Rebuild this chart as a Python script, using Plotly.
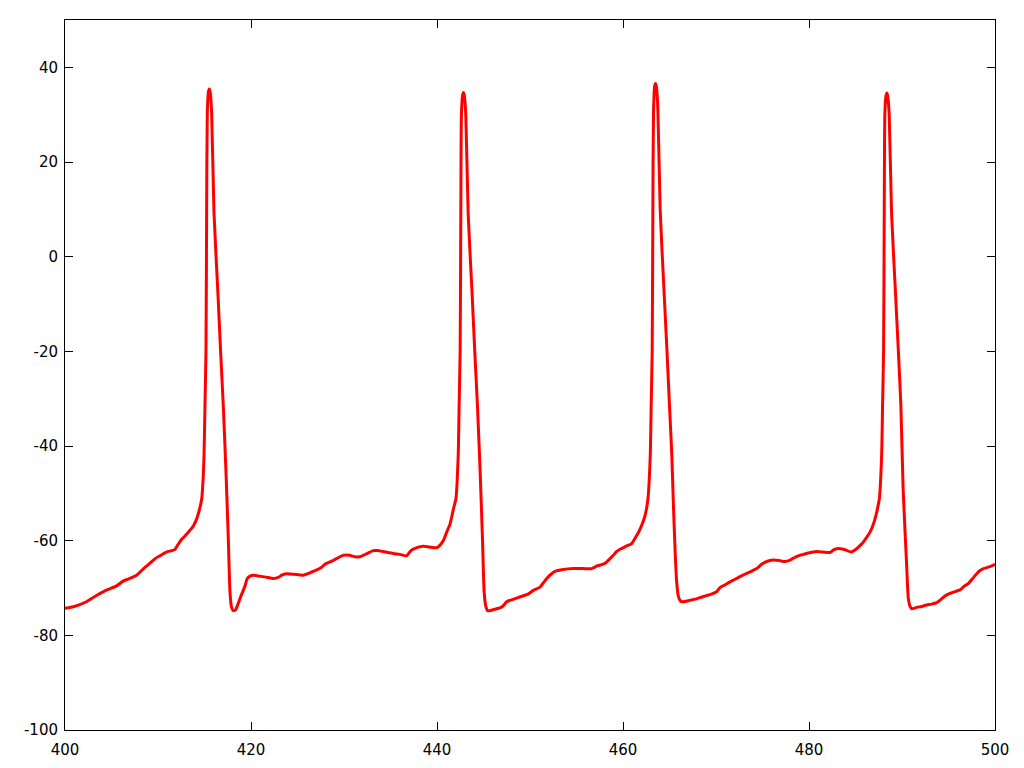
'''
    Membrane potential trace (gnuplot-like look) rebuilt with plotly.
'''

import plotly.graph_objects as go

# time (ms) and membrane potential (mV)
time_ms = [
    400.0, 401.0, 402.3, 403.2, 404.1, 404.8, 405.6, 406.2, 406.8, 407.7,
    408.4, 409.0, 409.7, 410.3, 410.9, 411.8, 412.1, 412.5, 413.0, 413.44,
    413.8, 414.16, 414.45, 414.7, 414.85, 414.95, 415.05, 415.16, 415.23, 415.3,
    415.42, 415.52, 415.62, 415.77, 416.02, 416.45, 416.72, 417.02, 417.31, 417.56,
    417.74, 417.9, 418.1, 418.35, 418.6, 418.9, 419.15, 419.35, 419.6, 419.9,
    420.25, 420.95, 421.6, 422.4, 423.0, 423.3, 423.8, 424.6, 425.6, 426.2,
    426.7, 427.6, 428.0, 428.5, 429.2, 429.9, 430.6, 431.2, 431.7, 432.4,
    433.15, 433.6, 434.2, 435.3, 436.0, 436.74, 437.1, 437.45, 438.5, 439.4,
    439.97, 440.3, 440.7, 441.04, 441.4, 441.58, 441.8,
    442.03, 442.28, 442.38, 442.49, 442.56, 442.63, 442.75, 442.85, 442.95, 443.1,
    443.35, 443.78, 444.05, 444.35, 444.64, 444.89, 445.07, 445.25, 445.43, 445.63,
    446.2, 446.77, 447.1, 447.5, 447.85, 448.9, 449.8, 450.36, 451.08, 451.4,
    451.8, 452.2, 452.69, 453.58, 454.66, 455.7, 456.63, 457.17, 458.06, 458.5,
    458.96, 459.3, 459.68, 460.3, 460.93, 461.2, 461.47, 461.75, 462.0, 462.37,
    462.68, 462.93, 463.03, 463.14, 463.21, 463.28, 463.4, 463.5, 463.6, 463.75,
    464.0, 464.43, 464.72, 465.0, 465.25, 465.4, 465.6, 465.77, 465.95, 466.2,
    466.4, 467.0, 467.9, 468.5, 469.0, 469.5, 470.07, 470.43, 471.0, 471.5,
    472.0, 472.58, 473.1, 473.66, 474.37, 474.9, 475.45, 476.16, 476.8, 477.42,
    477.96, 478.4, 478.85, 479.4, 479.93, 480.82, 481.5, 482.26, 482.6, 482.97,
    483.69, 484.1, 484.52, 485.13, 485.5, 485.84, 486.2, 486.56, 486.85, 487.1,
    487.3,
    487.56, 487.81, 487.91, 488.02, 488.09, 488.16, 488.28, 488.38, 488.48, 488.63,
    488.88, 489.31, 489.6, 489.88, 490.12, 490.5, 490.68, 490.85, 491.04, 491.3,
    491.58, 492.1, 492.65, 493.2, 493.73, 494.2, 494.62, 495.1, 495.5, 496.24,
    496.7, 497.1, 497.6, 498.03, 498.4, 498.75, 499.46, 500.0,
]

voltage_mv = [
    -74.3, -73.9, -72.9, -71.8, -70.8, -70.2, -69.5, -68.6, -68.1, -67.3,
    -66.0, -65.0, -63.8, -63.1, -62.4, -61.9, -61.0, -59.8, -58.8, -57.8,
    -56.9, -55.4, -53.5, -51.2, -47.0, -42.0, -31.5, -19.6, 9.3, 30.3,
    34.8, 35.4, 34.6, 30.3, 9.3, -8.0, -19.6, -31.5, -45.5, -59.6,
    -70.8, -74.0, -74.8, -74.6, -73.4, -71.8, -70.6, -69.6, -68.0, -67.5,
    -67.3, -67.5, -67.7, -68.0, -67.7, -67.3, -67.0, -67.1, -67.3, -66.9,
    -66.5, -65.6, -64.9, -64.5, -63.8, -63.1, -63.1, -63.4, -63.4, -62.8,
    -62.1, -62.1, -62.3, -62.7, -62.9, -63.2, -62.3, -61.8, -61.2, -61.4,
    -61.5, -61.0, -59.9, -58.2, -56.5, -55.0, -53.0,
    -51.2, -42.0, -31.5, -19.6, 9.3, 30.3, 34.1, 34.7, 33.9, 29.7,
    9.1, -8.0, -19.6, -31.5, -45.5, -59.6, -70.8, -73.9, -74.8, -74.8,
    -74.5, -74.2, -73.8, -72.9, -72.6, -71.9, -71.3, -70.5, -69.8, -69.0,
    -68.0, -67.2, -66.5, -66.1, -65.9, -65.9, -65.9, -65.4, -64.8, -64.0,
    -63.1, -62.3, -61.8, -61.2, -60.6, -59.8, -58.9, -57.9, -56.8, -54.7,
    -51.2, -42.0, -31.5, -19.6, 9.3, 30.3, 36.0, 36.6, 35.8, 31.2,
    9.8, -8.0, -19.6, -31.5, -42.0, -51.2, -62.0, -68.7, -71.7, -72.8,
    -72.9, -72.7, -72.3, -71.9, -71.6, -71.3, -70.8, -69.9, -69.3, -68.7,
    -68.2, -67.6, -67.1, -66.6, -65.9, -65.0, -64.4, -64.1, -64.2, -64.4,
    -64.1, -63.6, -63.2, -62.9, -62.6, -62.3, -62.4, -62.5, -62.0, -61.7,
    -61.8, -62.1, -62.4, -61.7, -61.0, -60.3, -59.3, -58.2, -56.9, -55.4,
    -53.8,
    -51.2, -42.0, -31.5, -19.6, 9.3, 30.3, 34.0, 34.6, 33.8, 29.6,
    9.1, -8.0, -19.6, -31.5, -49.0, -65.2, -72.2, -73.8, -74.4, -74.3,
    -74.1, -73.9, -73.6, -73.4, -73.1, -72.4, -71.7, -71.2, -70.9, -70.4,
    -69.6, -69.1, -68.0, -67.0, -66.3, -65.9, -65.5, -65.0,
]

x_ticks = [400, 420, 440, 460, 480, 500]
x_tick_labels = ['400', '420', '440', '460', '480', '500']
y_ticks = [-100, -80, -60, -40, -20, 0, 20, 40]
y_tick_labels = ['-100', '-80', '-60', '-40', '-20', '0', '20', '40']

x_range = [400, 500]
y_range = [-100, 50]


def get_plot():
    '''
        Builds the figure: one red trace in a boxed frame with
        inward, mirrored ticks.
    '''
    fig = go.Figure(go.Scatter(x=time_ms, y=voltage_mv, mode='lines',
                               line=dict(color='#ff0000', width=3,
                                         shape='spline', smoothing=0.6),
                               showlegend=False))

    axis_style = dict(showline=True, linecolor='black', linewidth=1,
                      mirror='ticks', ticks='inside', ticklen=8,
                      tickwidth=1, tickcolor='black', showgrid=False,
                      zeroline=False, automargin=False,
                      tickfont=dict(size=15, color='black'))

    fig.update_xaxes(range=x_range, tickmode='array', tickvals=x_ticks,
                     ticktext=x_tick_labels, ticklabelstandoff=6,
                     **axis_style)
    fig.update_yaxes(range=y_range, tickmode='array', tickvals=y_ticks,
                     ticktext=y_tick_labels, ticklabelstandoff=3,
                     **axis_style)

    # the page body adds 8px around the figure
    fig.update_layout(width=1016, height=760,
                      margin=dict(l=57, r=29, t=12, b=38),
                      plot_bgcolor='white', paper_bgcolor='white',
                      font=dict(family='DejaVu Sans', size=15))
    return fig


fig = get_plot()
fig.write_html("out.html")
